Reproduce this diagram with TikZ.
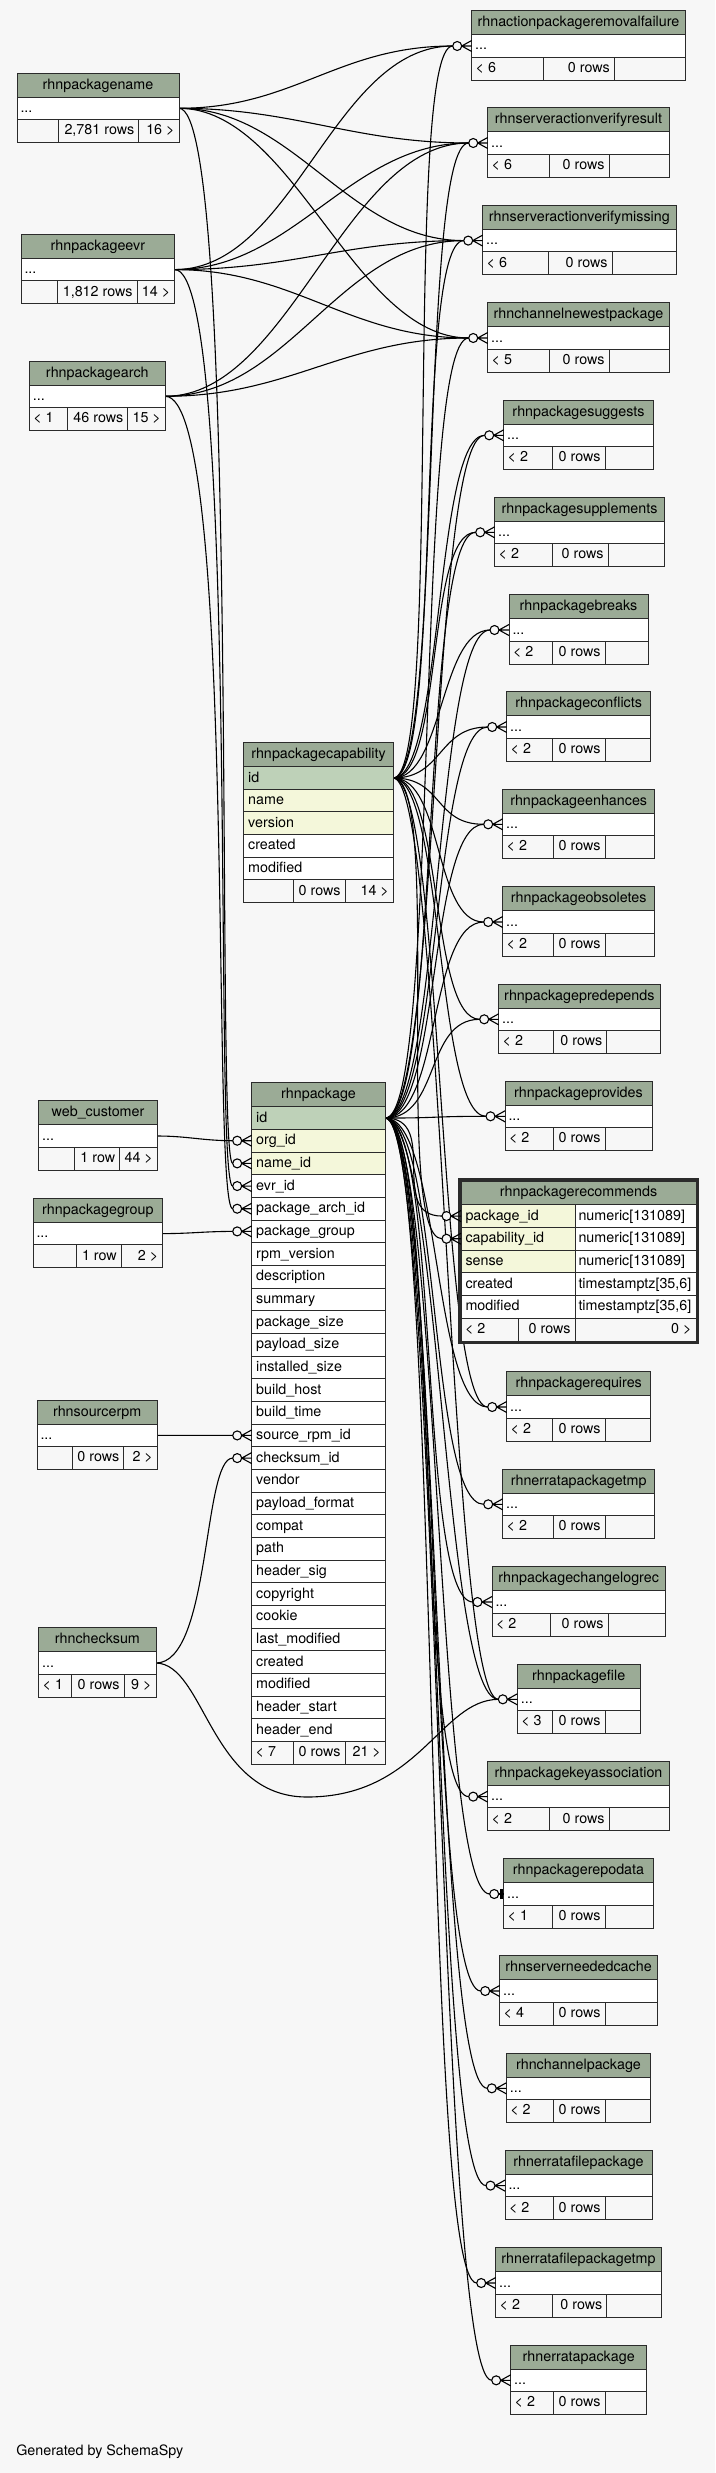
\documentclass[tikz,border=0pt]{standalone}
\usepackage{fontspec}
\setmainfont{TeX Gyre Heros}
\definecolor{bgc}{HTML}{F7F7F7}
\definecolor{hdrc}{HTML}{9BAB96}
\definecolor{pkc}{HTML}{BED1B8}
\definecolor{idxc}{HTML}{F4F7DA}
\definecolor{footc}{HTML}{F7F7F7}
\definecolor{bordc}{HTML}{2B2B2B}
\pgfdeclarelayer{bg}
\pgfdeclarelayer{edges}
\pgfsetlayers{bg,edges,main}
\tikzset{
  cell/.style={draw=bordc,line width=0.9pt,inner sep=0pt,outer sep=0pt,anchor=north west},
  txt/.style={inner sep=0pt,outer sep=0pt,text height=11pt,text depth=3pt,font=\fontsize{14.3}{17}\selectfont},
  fk/.style={line width=1.1pt,draw=black},
  tipl/.style={line width=1.1pt,draw=black},
}
% #1 name, #2 x1, #3 x2, #4 ytop, #5 d1, #6 d2, #7 footL, #8 footM, #9 footR
\newcommand\tbl[9]{%
  \node[cell,fill=hdrc,minimum width={(#3)-(#2)},minimum height=24] (#1) at (#2,#4) {};
  \node[txt] (#1-title) at (#1.center) {\detokenize{#1}};
  \node[cell,fill=white,minimum width={(#3)-(#2)},minimum height=22.6] (#1-r) at (#2,#4+24) {};
  \node[txt,anchor=west,xshift=3.5pt] (#1-dots) at (#1-r.west) {...};
  \node[cell,fill=footc,minimum width={(#5)-(#2)},minimum height=22.7] (#1-f1) at (#2,#4+46.6) {};
  \node[cell,fill=footc,minimum width={(#6)-(#5)},minimum height=22.7] (#1-f2) at (#5,#4+46.6) {};
  \node[cell,fill=footc,minimum width={(#3)-(#6)},minimum height=22.7] (#1-f3) at (#6,#4+46.6) {};
  \node[txt,anchor=west,xshift=4pt] (#1-fl) at (#1-f1.west) {#7};
  \node[txt,anchor=east,xshift=-4.5pt] (#1-fm) at (#1-f2.east) {#8};
  \node[txt,anchor=east,xshift=-4.5pt] (#1-fr) at (#1-f3.east) {#9};
  \coordinate (#1-in) at ([xshift=-19pt]#1-r.west);
}
\newcommand\crowtip[1]{%
  \draw[tipl,fill=bgc] ([xshift=-14.5pt]#1.west) circle[radius=4.5pt];
  \draw[tipl] ([xshift=-10pt]#1.west) -- (#1.west)
     ([xshift=-10pt]#1.west) -- ([yshift=5.5pt]#1.west)
     ([xshift=-10pt]#1.west) -- ([yshift=-5.5pt]#1.west);
}
\newcommand\bartip[1]{%
  \draw[tipl] ([xshift=-5pt]#1.west) -- (#1.west);
  \draw[line width=2.2pt] ([xshift=-2.2pt,yshift=-5pt]#1.west) -- ([xshift=-2.2pt,yshift=5pt]#1.west);
  \draw[tipl,fill=bgc] ([xshift=-9.5pt]#1.west) circle[radius=4.5pt];
}
% connector: from #1 to #2, horizontal tangents, control distance #3
\newcommand\fkc[3]{%
  \draw[fk] (#1) .. controls ([xshift=#3pt]#1) and ([xshift=-#3pt]#2) .. (#2);
}
% connector with separate start / end control distances
\newcommand\fkcc[4]{%
  \draw[fk] (#1) .. controls ([xshift=#3pt]#1) and ([xshift=-#4pt]#2) .. (#2);
}
\begin{document}
\begin{tikzpicture}[x=1pt,y=-1pt]
\useasboundingbox (0,0) rectangle (715,2473);
\begin{pgfonlayer}{bg}
\fill[bgc] (0,0) rectangle (715,2473);
\end{pgfonlayer}

% ---------- simple tables ----------
\tbl{rhnpackagename}{17}{179}{73}{58.7}{138.7}{}{2,781 rows}{16 >}
\tbl{rhnpackageevr}{21}{174.7}{234.3}{57.3}{137}{}{1,812 rows}{14 >}
\tbl{rhnpackagearch}{29.3}{165.3}{361}{67.7}{127.7}{< 1}{46 rows}{15 >}
\tbl{rhnactionpackageremovalfailure}{471.7}{685.3}{10.7}{543.7}{614.3}{< 6}{0 rows}{}
\tbl{rhnserveractionverifyresult}{487.7}{669.3}{107.7}{549}{609}{< 6}{0 rows}{}
\tbl{rhnserveractionverifymissing}{482.7}{676}{205.3}{548}{612}{< 6}{0 rows}{}
\tbl{rhnchannelnewestpackage}{487.7}{669.3}{302.7}{549}{609}{< 5}{0 rows}{}
\tbl{rhnpackagesuggests}{503.7}{653.3}{400}{552.7}{605}{< 2}{0 rows}{}
\tbl{rhnpackagesupplements}{494.7}{664.3}{497}{552}{608}{< 2}{0 rows}{}
\tbl{rhnpackagebreaks}{509}{648}{594.7}{552.7}{605}{< 2}{0 rows}{}
\tbl{rhnpackageconflicts}{506.7}{650.7}{691.7}{552.7}{605}{< 2}{0 rows}{}
\tbl{rhnpackageenhances}{502.7}{654.7}{789}{553}{605}{< 2}{0 rows}{}
\tbl{rhnpackageobsoletes}{502.7}{654.7}{886.7}{553}{605}{< 2}{0 rows}{}
\tbl{rhnpackagepredepends}{498.7}{660}{984}{553.3}{606.7}{< 2}{0 rows}{}
\tbl{rhnpackageprovides}{505}{652}{1081}{553}{605}{< 2}{0 rows}{}
\tbl{rhnpackagerequires}{506.7}{650.7}{1371.7}{552.7}{605}{< 2}{0 rows}{}
\tbl{rhnerratapackagetmp}{502.7}{654.7}{1469}{553}{605}{< 2}{0 rows}{}
\tbl{rhnpackagechangelogrec}{492}{665.3}{1566.7}{550.7}{608}{< 2}{0 rows}{}
\tbl{rhnpackagefile}{517.3}{640}{1664}{552.7}{605}{< 3}{0 rows}{}
\tbl{rhnpackagekeyassociation}{487.7}{669.3}{1761.3}{549}{609}{< 2}{0 rows}{}
\tbl{rhnpackagerepodata}{503.7}{653.3}{1858.7}{552.7}{605}{< 1}{0 rows}{}
\tbl{rhnserverneededcache}{499.7}{657.3}{1955.7}{553}{605}{< 4}{0 rows}{}
\tbl{rhnchannelpackage}{506.3}{650.7}{2053}{553}{605}{< 2}{0 rows}{}
\tbl{rhnerratafilepackage}{505}{652}{2150.3}{553}{605}{< 2}{0 rows}{}
\tbl{rhnerratafilepackagetmp}{495.7}{661.3}{2247.7}{552}{606.7}{< 2}{0 rows}{}
\tbl{rhnerratapackage}{510.7}{646.7}{2345}{553}{605}{< 2}{0 rows}{}
\tbl{web_customer}{38.7}{157.3}{1100.7}{74.7}{119.7}{}{1 row}{44 >}
\tbl{rhnpackagegroup}{33}{162.7}{1198.3}{76}{121.3}{}{1 row}{2 >}
\tbl{rhnsourcerpm}{37}{157.3}{1400}{72}{123.7}{}{0 rows}{2 >}
\tbl{rhnchecksum}{38.7}{156}{1627.7}{71.7}{124}{< 1}{0 rows}{9 >}
\coordinate (rhnpackagerepodata-in) at ([xshift=-14pt]rhnpackagerepodata-r.west);

% ---------- rhnpackagecapability ----------
\node[cell,fill=hdrc,minimum width=149.6,minimum height=24] (cap) at (243.7,742.7) {};
\node[txt] (cap-title) at (cap.center) {rhnpackagecapability};
\foreach \t [count=\i from 0] in {id,name,version,created,modified}{
  \ifnum\i=0 \def\rf{pkc}\else\ifnum\i<3 \def\rf{idxc}\else\def\rf{white}\fi\fi
  \node[cell,fill=\rf,minimum width=149.6,minimum height=22.6] (cap-\i) at (243.7,{766.7+22.6*\i}) {};
  \node[txt,anchor=west,xshift=4.5pt] (cap-\i-t) at (cap-\i.west) {\t};
}
\node[cell,fill=footc,minimum width=49.3,minimum height=22.6] (cap-f1) at (243.7,879.7) {};
\node[cell,fill=footc,minimum width=52,minimum height=22.6] (cap-f2) at (293,879.7) {};
\node[cell,fill=footc,minimum width=48.3,minimum height=22.6] (cap-f3) at (345,879.7) {};
\node[txt,anchor=east,xshift=-4.5pt] (cap-fm) at (cap-f2.east) {0 rows};
\node[txt,anchor=east,xshift=-4.5pt] (cap-fr) at (cap-f3.east) {14 >};

% ---------- rhnpackage ----------
\node[cell,fill=hdrc,minimum width=133.6,minimum height=24] (pkg) at (251.7,1082.7) {};
\node[txt] (pkg-title) at (pkg.center) {rhnpackage};
\foreach \t [count=\i from 0] in {id,org\_id,name\_id,evr\_id,package\_arch\_id,package\_group,rpm\_version,description,summary,package\_size,payload\_size,installed\_size,build\_host,build\_time,source\_rpm\_id,checksum\_id,vendor,payload\_format,compat,path,header\_sig,copyright,cookie,last\_modified,created,modified,header\_start,header\_end}{
  \ifnum\i=0 \def\rf{pkc}\else\ifnum\i<3 \def\rf{idxc}\else\def\rf{white}\fi\fi
  \node[cell,fill=\rf,minimum width=133.6,minimum height=22.67] (pkg-\i) at (251.7,{1106.7+22.67*\i}) {};
  \node[txt,anchor=west,xshift=4.5pt] (pkg-\i-t) at (pkg-\i.west) {\t};
  \coordinate (pkg-\i-in) at ([xshift=-19pt]pkg-\i.west);
}
\node[cell,fill=footc,minimum width=41.3,minimum height=22.7] (pkg-f1) at (251.7,1741.5) {};
\node[cell,fill=footc,minimum width=52,minimum height=22.7] (pkg-f2) at (293,1741.5) {};
\node[cell,fill=footc,minimum width=40.3,minimum height=22.7] (pkg-f3) at (345,1741.5) {};
\node[txt,anchor=west,xshift=4pt] (pkg-fl) at (pkg-f1.west) {< 7};
\node[txt,anchor=east,xshift=-4.5pt] (pkg-fm) at (pkg-f2.east) {0 rows};
\node[txt,anchor=east,xshift=-4.5pt] (pkg-fr) at (pkg-f3.east) {21 >};

% ---------- rhnpackagerecommends ----------
\draw[draw=bordc,line width=2.7pt] (459.6,1179.7) rectangle (697.5,1342.5);
\node[cell,fill=hdrc,minimum width=235,minimum height=23.7] (rec) at (461,1181) {};
\node[txt] (rec-title) at (rec.center) {rhnpackagerecommends};
\foreach \t/\ty [count=\i] in {package\_id/numeric[131089],capability\_id/numeric[131089],sense/numeric[131089],created/{timestamptz[35,6]},modified/{timestamptz[35,6]}}{
  \ifnum\i<4 \def\rf{idxc}\else\def\rf{white}\fi
  \node[cell,fill=\rf,minimum width=114,minimum height=22.7] (rec-\i) at (461,{1204.7+22.7*(\i-1)}) {};
  \node[cell,fill=white,minimum width=121,minimum height=22.7] (rect-\i) at (575,{1204.7+22.7*(\i-1)}) {};
  \node[txt,anchor=west,xshift=4.5pt] (rec-\i-t) at (rec-\i.west) {\t};
  \node[txt,anchor=west,xshift=3.5pt] (rect-\i-t) at (rect-\i.west) {\ty};
  \coordinate (rec-\i-in) at ([xshift=-19pt]rec-\i.west);
}
\node[cell,fill=footc,minimum width=57.7,minimum height=22.7] (rec-f1) at (461,1318.3) {};
\node[cell,fill=footc,minimum width=56.3,minimum height=22.7] (rec-f2) at (518.7,1318.3) {};
\node[cell,fill=footc,minimum width=121,minimum height=22.7] (rec-f3) at (575,1318.3) {};
\node[txt,anchor=west,xshift=4pt] (rec-fl) at (rec-f1.west) {< 2};
\node[txt,anchor=east,xshift=-4.5pt] (rec-fm) at (rec-f2.east) {0 rows};
\node[txt,anchor=east,xshift=-4.5pt] (rec-fr) at (rec-f3.east) {0 >};

\node[txt,anchor=west] (gen) at (16.3,2451) {Generated by SchemaSpy};

% ---------- connectors ----------
\coordinate (csw) at (307,1797);
\begin{pgfonlayer}{edges}
\foreach \t in {rhnactionpackageremovalfailure,rhnserveractionverifyresult,rhnserveractionverifymissing,rhnchannelnewestpackage}{
  \fkc{rhnpackagename-r.east}{\t-in}{115}
  \fkc{rhnpackageevr-r.east}{\t-in}{120}
}
\foreach \t in {rhnserveractionverifyresult,rhnserveractionverifymissing,rhnchannelnewestpackage}{
  \fkc{rhnpackagearch-r.east}{\t-in}{125}
}
\fkcc{rhnpackagename-r.east}{pkg-2-in}{62}{18}
\fkcc{rhnpackageevr-r.east}{pkg-3-in}{66}{20}
\fkcc{rhnpackagearch-r.east}{pkg-4-in}{72}{22}
\fkc{web_customer-r.east}{pkg-1-in}{30}
\fkc{rhnpackagegroup-r.east}{pkg-5-in}{28}
\fkc{rhnsourcerpm-r.east}{pkg-14-in}{30}
\fkcc{rhnchecksum-r.east}{pkg-15-in}{55}{30}
\draw[fk] (rhnchecksum-r.east) .. controls (205,1664) and (210,1797) .. (csw)
  .. controls (420,1797) and (440,1700) .. (rhnpackagefile-in);
\foreach \t in {rhnactionpackageremovalfailure,rhnserveractionverifyresult,rhnserveractionverifymissing,rhnpackagesuggests,rhnpackagesupplements,rhnpackagebreaks,rhnpackageconflicts,rhnpackageenhances,rhnpackageobsoletes,rhnpackagepredepends,rhnpackageprovides,rec-2,rhnpackagerequires,rhnpackagefile}{
  \fkc{cap-0.east}{\t-in}{50}
}
\foreach \t in {rhnchannelnewestpackage,rhnpackagesuggests,rhnpackagesupplements,rhnpackagebreaks,rhnpackageconflicts,rhnpackageenhances,rhnpackageobsoletes,rhnpackagepredepends,rhnpackageprovides,rec-1,rhnpackagerequires,rhnerratapackagetmp,rhnpackagechangelogrec,rhnpackagefile,rhnpackagekeyassociation,rhnpackagerepodata,rhnserverneededcache,rhnchannelpackage,rhnerratafilepackage,rhnerratafilepackagetmp,rhnerratapackage}{
  \fkc{pkg-0.east}{\t-in}{55}
}
\end{pgfonlayer}

% ---------- tips ----------
\foreach \t in {rhnactionpackageremovalfailure,rhnserveractionverifyresult,rhnserveractionverifymissing,rhnchannelnewestpackage,rhnpackagesuggests,rhnpackagesupplements,rhnpackagebreaks,rhnpackageconflicts,rhnpackageenhances,rhnpackageobsoletes,rhnpackagepredepends,rhnpackageprovides,rhnpackagerequires,rhnerratapackagetmp,rhnpackagechangelogrec,rhnpackagefile,rhnpackagekeyassociation,rhnserverneededcache,rhnchannelpackage,rhnerratafilepackage,rhnerratafilepackagetmp,rhnerratapackage}{
  \crowtip{\t-r}
}
\bartip{rhnpackagerepodata-r}
\foreach \i in {1,2,3,4,5,14,15}{\crowtip{pkg-\i}}
\crowtip{rec-1}
\crowtip{rec-2}
\end{tikzpicture}
\end{document}
